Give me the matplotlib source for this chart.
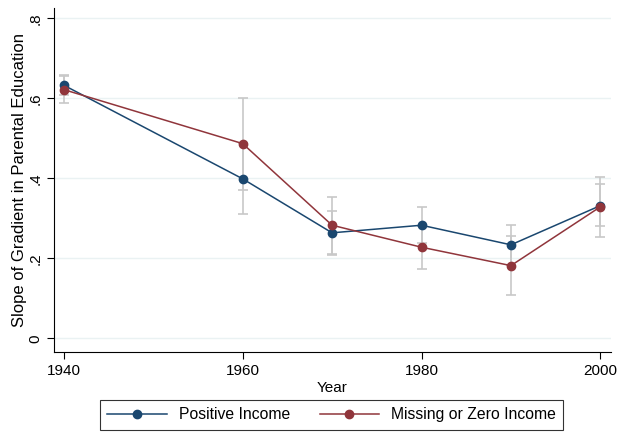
import matplotlib.pyplot as plt
import numpy as np

plt.rcParams['font.family'] = ['Liberation Sans', 'DejaVu Sans']

years = [1940, 1960, 1970, 1980, 1990, 2000]

# Positive Income
pos = [0.633, 0.399, 0.264, 0.283, 0.234, 0.332]
pos_lo = [0.608, 0.310, 0.209, 0.238, 0.184, 0.253]
pos_hi = [0.658, 0.488, 0.319, 0.328, 0.284, 0.404]

# Missing or Zero Income
mis = [0.622, 0.487, 0.283, 0.228, 0.182, 0.329]
mis_lo = [0.589, 0.372, 0.212, 0.174, 0.109, 0.281]
mis_hi = [0.655, 0.602, 0.354, 0.282, 0.256, 0.387]

blue = '#1a476f'
red = '#90353b'
gray = '#c8c8c8'

fig = plt.figure(figsize=(6.19, 4.33), dpi=100)
ax = fig.add_axes([0.0872, 0.187, 0.9, 0.7945])

x = np.array(years)
for y, lo, hi in [(pos, pos_lo, pos_hi), (mis, mis_lo, mis_hi)]:
    y = np.array(y)
    err = [y - np.array(lo), np.array(hi) - y]
    ax.errorbar(x, y, yerr=err, fmt='none', ecolor=gray, elinewidth=1.2,
                capsize=3.3, capthick=1.2, zorder=2)

ax.plot(x, pos, color=blue, lw=1.1, marker='o', ms=6, zorder=3, label='Positive Income')
ax.plot(x, mis, color=red, lw=1.1, marker='o', ms=6, zorder=4, label='Missing or Zero Income')

ax.set_xlim(1938.9, 2001.2)
ax.set_ylim(-0.034, 0.826)
ax.set_xticks([1940, 1960, 1980, 2000])
ax.set_yticks([0, 0.2, 0.4, 0.6, 0.8])
ax.set_yticklabels(['0', '.2', '.4', '.6', '.8'], rotation=90, va='center')
for t in [0, 0.2, 0.4, 0.6, 0.8]:
    ax.axhline(t, color='#eaf2f3', lw=1.0, zorder=0)

ax.spines['top'].set_visible(False)
ax.spines['right'].set_visible(False)
ax.tick_params(labelsize=11, length=5, width=0.8)
ax.set_xlabel('Year', fontsize=11, labelpad=2)
ax.set_ylabel('Slope of Gradient in Parental Education', fontsize=12, labelpad=1)

leg = fig.legend(loc='center', bbox_to_anchor=(0.5355, 0.0416), ncol=2, fontsize=11.3,
                 frameon=True, fancybox=False, edgecolor='black', handlelength=3.8,
                 columnspacing=1.9, borderpad=0.45, handletextpad=0.75)
leg.get_frame().set_linewidth(0.8)

plt.savefig('out.png', dpi=100)
